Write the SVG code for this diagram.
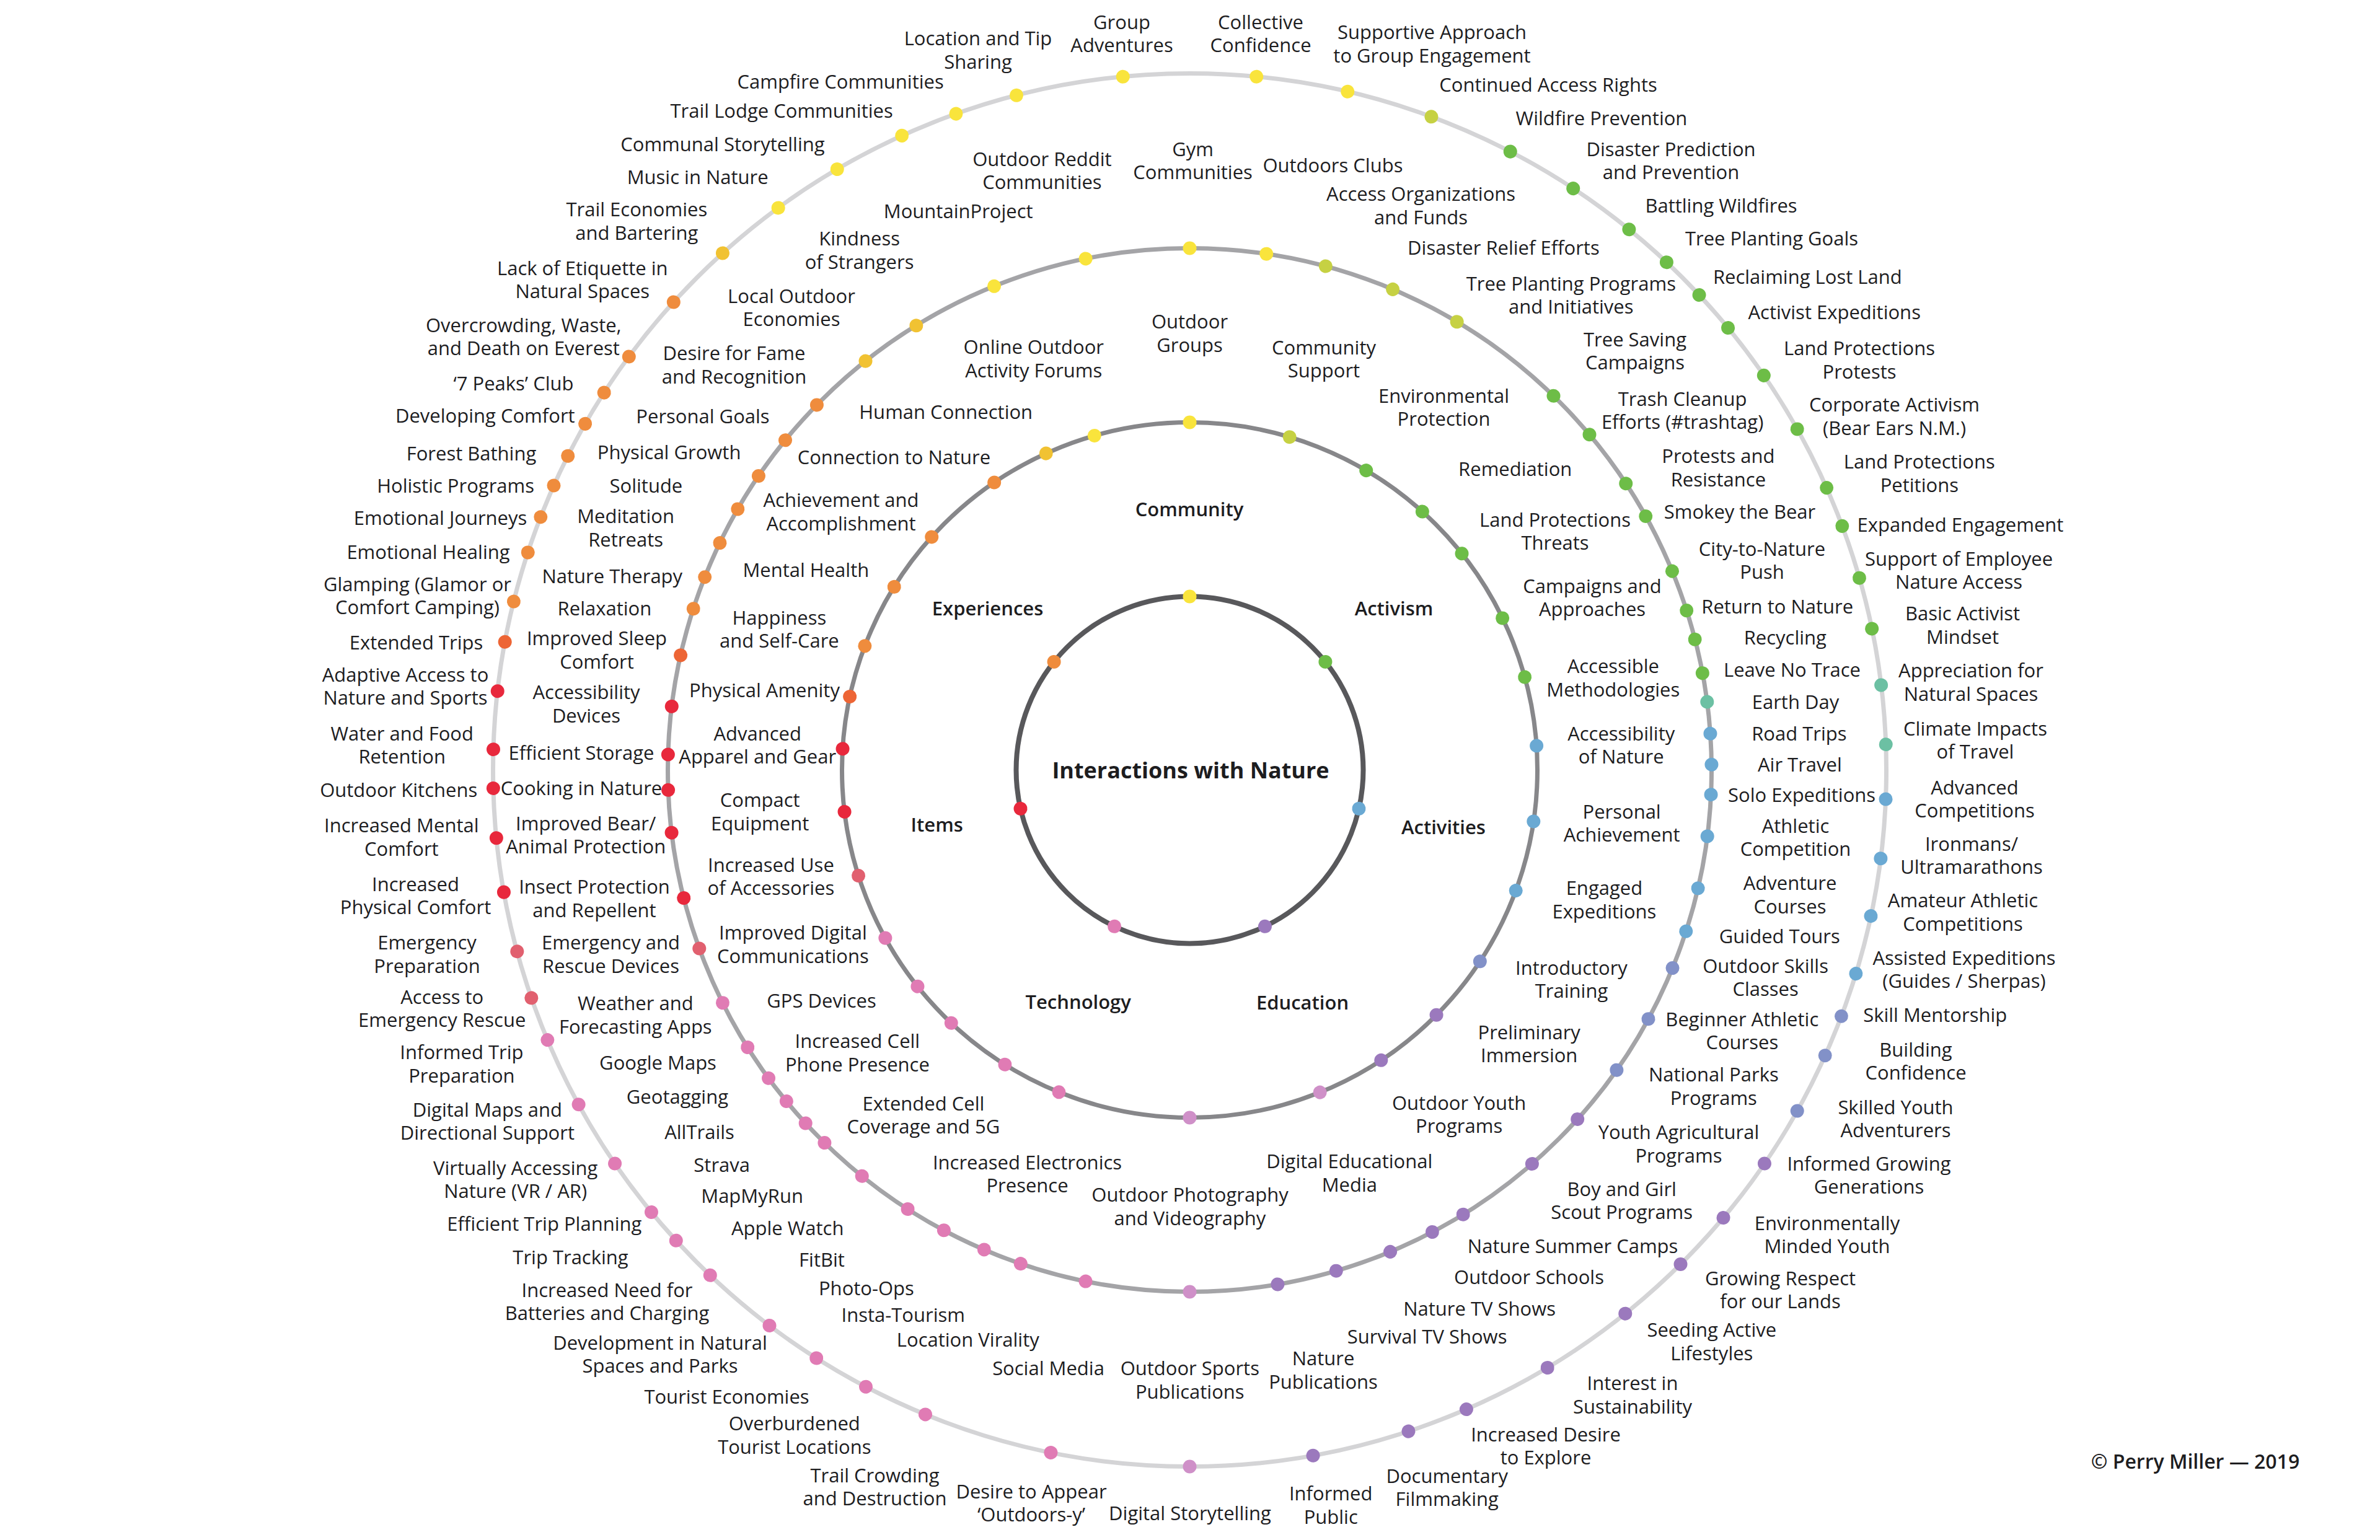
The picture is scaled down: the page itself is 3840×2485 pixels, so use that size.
<svg xmlns="http://www.w3.org/2000/svg" xmlns:xlink="http://www.w3.org/1999/xlink" width="3840" height="2485" viewBox="0 0 3840 2485">
<style>
text{font-family:"Open Sans","Liberation Sans",sans-serif;font-size:31px;font-weight:500;fill:#1d1d1f;text-anchor:middle}
.cat{font-weight:600}
.title{font-weight:700;font-size:36px}
.copy{font-weight:600;font-size:32px}
.ring{fill:none}
.r1{stroke:#58585b;stroke-width:8}
.r2{stroke:#87878a;stroke-width:7}
.r3{stroke:#a4a4a7;stroke-width:7}
.r4{stroke:#d4d4d6;stroke-width:7}
.cy{fill:#f9e43c}.cyo{fill:#f1c232}.co{fill:#ef8c3d}.cor{fill:#ed6535}.cr{fill:#e8283c}.cs{fill:#e1606f}
.cp{fill:#e07bb4}.cpp{fill:#cf90c8}.cv{fill:#9b79bd}.cb2{fill:#8291c8}.cb{fill:#6aa9d3}.ct{fill:#6cc0a3}
.cg{fill:#6dbd47}.cyg{fill:#c6d143}
</style>
<defs>
<circle id="d1" cx="2199.5" cy="1242.5" r="11"/>
<circle id="d2" cx="2480.5" cy="1242.5" r="11"/>
<circle id="d3" cx="2761.5" cy="1242.5" r="11"/>
<circle id="d4" cx="3043.5" cy="1242.5" r="11"/>
</defs>
<rect width="3840" height="2485" fill="#ffffff"/>
<g id="connectors">
<circle class="ring r4" cx="1919.5" cy="1242.5" r="1124"/>
<circle class="ring r3" cx="1919.5" cy="1242.5" r="842"/>
<circle class="ring r2" cx="1919.5" cy="1242.5" r="561"/>
<circle class="ring r1" cx="1919.5" cy="1242.5" r="280"/>
</g>
<g id="center"><text class="title" x="1921" y="1256">Interactions with Nature</text></g>

<g id="ring1">
<g id="r1-community"><use href="#d1" class="cy" transform="rotate(-90 1919.5 1242.5)"/><text class="cat" x="1919" y="833">Community</text></g>
<g id="r1-activism"><use href="#d1" class="cg" transform="rotate(-38.57 1919.5 1242.5)"/><text class="cat" x="2249" y="992.5">Activism</text></g>
<g id="r1-activities"><use href="#d1" class="cb" transform="rotate(12.86 1919.5 1242.5)"/><text class="cat" x="2329" y="1346">Activities</text></g>
<g id="r1-education"><use href="#d1" class="cv" transform="rotate(64.29 1919.5 1242.5)"/><text class="cat" x="2101.5" y="1628.8">Education</text></g>
<g id="r1-technology"><use href="#d1" class="cp" transform="rotate(115.71 1919.5 1242.5)"/><text class="cat" x="1739.7" y="1627.7">Technology</text></g>
<g id="r1-items"><use href="#d1" class="cr" transform="rotate(167.14 1919.5 1242.5)"/><text class="cat" x="1511.7" y="1342.2">Items</text></g>
<g id="r1-experiences"><use href="#d1" class="co" transform="rotate(-141.43 1919.5 1242.5)"/><text class="cat" x="1593.5" y="992.5">Experiences</text></g>
</g>

<g id="ring2">
<g id="a01"><use href="#d2" class="cy" transform="rotate(-90 1919.5 1242.5)"/><text x="1919.5" y="530.3">Outdoor<tspan x="1919.5" dy="37.5">Groups</tspan></text></g>
<g id="a02"><use href="#d2" class="cyg" transform="rotate(-73.3 1919.5 1242.5)"/><text x="2136" y="571.5">Community<tspan x="2136" dy="37.5">Support</tspan></text></g>
<g id="a03"><use href="#d2" class="cg" transform="rotate(-59.5 1919.5 1242.5)"/><text x="2329.5" y="649.7">Environmental<tspan x="2329.5" dy="37.5">Protection</tspan></text></g>
<g id="a04"><use href="#d2" class="cg" transform="rotate(-48 1919.5 1242.5)"/><text x="2444.7" y="767.5">Remediation</text></g>
<g id="a05"><use href="#d2" class="cg" transform="rotate(-38.5 1919.5 1242.5)"/><text x="2509" y="849.5">Land Protections<tspan x="2509" dy="37.5">Threats</tspan></text></g>
<g id="a06"><use href="#d2" class="cg" transform="rotate(-25.9 1919.5 1242.5)"/><text x="2569" y="956.6">Campaigns and<tspan x="2569" dy="37.5">Approaches</tspan></text></g>
<g id="a07"><use href="#d2" class="cg" transform="rotate(-15.5 1919.5 1242.5)"/><text x="2602.8" y="1086.2">Accessible<tspan x="2602.8" dy="37.5">Methodologies</tspan></text></g>
<g id="a08"><use href="#d2" class="cb" transform="rotate(-4 1919.5 1242.5)"/><text x="2615.7" y="1194.9">Accessibility<tspan x="2615.7" dy="37.5">of Nature</tspan></text></g>
<g id="a09"><use href="#d2" class="cb" transform="rotate(8.5 1919.5 1242.5)"/><text x="2616.6" y="1320.8">Personal<tspan x="2616.6" dy="37.5">Achievement</tspan></text></g>
<g id="a10"><use href="#d2" class="cb" transform="rotate(20.3 1919.5 1242.5)"/><text x="2588.4" y="1444">Engaged<tspan x="2588.4" dy="37.5">Expeditions</tspan></text></g>
<g id="a11"><use href="#d2" class="cb2" transform="rotate(33.4 1919.5 1242.5)"/><text x="2535.5" y="1572.5">Introductory<tspan x="2535.5" dy="37.5">Training</tspan></text></g>
<g id="a12"><use href="#d2" class="cv" transform="rotate(44.8 1919.5 1242.5)"/><text x="2467.2" y="1676.6">Preliminary<tspan x="2467.2" dy="37.5">Immersion</tspan></text></g>
<g id="a13"><use href="#d2" class="cv" transform="rotate(56.6 1919.5 1242.5)"/><text x="2354.1" y="1790.9">Outdoor Youth<tspan x="2354.1" dy="37.5">Programs</tspan></text></g>
<g id="a14"><use href="#d2" class="cpp" transform="rotate(68 1919.5 1242.5)"/><text x="2177.3" y="1885.2">Digital Educational<tspan x="2177.3" dy="37.5">Media</tspan></text></g>
<g id="a15"><use href="#d2" class="cpp" transform="rotate(90 1919.5 1242.5)"/><text x="1920" y="1939">Outdoor Photography<tspan x="1920" dy="37.5">and Videography</tspan></text></g>
<g id="a16"><use href="#d2" class="cp" transform="rotate(112.1 1919.5 1242.5)"/><text x="1657.5" y="1886.8">Increased Electronics<tspan x="1657.5" dy="37.5">Presence</tspan></text></g>
<g id="a17"><use href="#d2" class="cp" transform="rotate(122.1 1919.5 1242.5)"/><text x="1489.9" y="1791.9">Extended Cell<tspan x="1489.9" dy="37.5">Coverage and 5G</tspan></text></g>
<g id="a18"><use href="#d2" class="cp" transform="rotate(133.3 1919.5 1242.5)"/><text x="1383.4" y="1691.2">Increased Cell<tspan x="1383.4" dy="37.5">Phone Presence</tspan></text></g>
<g id="a19"><use href="#d2" class="cp" transform="rotate(141.5 1919.5 1242.5)"/><text x="1325.5" y="1626.1">GPS Devices</text></g>
<g id="a20"><use href="#d2" class="cp" transform="rotate(151.1 1919.5 1242.5)"/><text x="1279.4" y="1516.3">Improved Digital<tspan x="1279.4" dy="37.5">Communications</tspan></text></g>
<g id="a21"><use href="#d2" class="cs" transform="rotate(162.3 1919.5 1242.5)"/><text x="1243.9" y="1406.5">Increased Use<tspan x="1243.9" dy="37.5">of Accessories</tspan></text></g>
<g id="a22"><use href="#d2" class="cr" transform="rotate(173.1 1919.5 1242.5)"/><text x="1226.2" y="1302">Compact<tspan x="1226.2" dy="37.5">Equipment</tspan></text></g>
<g id="a23"><use href="#d2" class="cr" transform="rotate(-176.5 1919.5 1242.5)"/><text x="1222.2" y="1194.9">Advanced<tspan x="1222.2" dy="37.5">Apparel and Gear</tspan></text></g>
<g id="a24"><use href="#d2" class="cor" transform="rotate(-167.8 1919.5 1242.5)"/><text x="1233.5" y="1125.3">Physical Amenity</text></g>
<g id="a25"><use href="#d2" class="co" transform="rotate(-159.1 1919.5 1242.5)"/><text x="1257.4" y="1007.5">Happiness<tspan x="1257.4" dy="37.5">and Self-Care</tspan></text></g>
<g id="a26"><use href="#d2" class="co" transform="rotate(-148.2 1919.5 1242.5)"/><text x="1300.3" y="930.9">Mental Health</text></g>
<g id="a27"><use href="#d2" class="co" transform="rotate(-137.9 1919.5 1242.5)"/><text x="1357" y="818.4">Achievement and<tspan x="1357" dy="37.5">Accomplishment</tspan></text></g>
<g id="a28"><use href="#d2" class="co" transform="rotate(-124.2 1919.5 1242.5)"/><text x="1442.4" y="748.8">Connection to Nature</text></g>
<g id="a29"><use href="#d2" class="cyo" transform="rotate(-114.4 1919.5 1242.5)"/><text x="1526.2" y="676">Human Connection</text></g>
<g id="a30"><use href="#d2" class="cy" transform="rotate(-105.9 1919.5 1242.5)"/><text x="1667.8" y="571">Online Outdoor<tspan x="1667.8" dy="37.5">Activity Forums</tspan></text></g>
</g>

<g id="ring3">
<g id="b01"><use href="#d3" class="cy" transform="rotate(-90 1919.5 1242.5)"/><text x="1924.6" y="251.7">Gym<tspan x="1924.6" dy="37.5">Communities</tspan></text></g>
<g id="b02"><use href="#d3" class="cy" transform="rotate(-81.55 1919.5 1242.5)"/><text x="2150.4" y="277.5">Outdoors Clubs</text></g>
<g id="b03"><use href="#d3" class="cyg" transform="rotate(-74.9 1919.5 1242.5)"/><text x="2292.6" y="324">Access Organizations<tspan x="2292.6" dy="37.5">and Funds</tspan></text></g>
<g id="b04"><use href="#d3" class="cyg" transform="rotate(-67.1 1919.5 1242.5)"/><text x="2425.9" y="411.4">Disaster Relief Efforts</text></g>
<g id="b05"><use href="#d3" class="cyg" transform="rotate(-59.2 1919.5 1242.5)"/><text x="2534.8" y="468.7">Tree Planting Programs<tspan x="2534.8" dy="37.5">and Initiatives</tspan></text></g>
<g id="b06"><use href="#d3" class="cg" transform="rotate(-45.8 1919.5 1242.5)"/><text x="2638" y="558.7">Tree Saving<tspan x="2638" dy="37.5">Campaigns</tspan></text></g>
<g id="b07"><use href="#d3" class="cg" transform="rotate(-40 1919.5 1242.5)"/><text x="2714.6" y="654.5">Trash Cleanup<tspan x="2714.6" dy="37.5">Efforts (#trashtag)</tspan></text></g>
<g id="b08"><use href="#d3" class="cg" transform="rotate(-33.3 1919.5 1242.5)"/><text x="2772.4" y="747.2">Protests and<tspan x="2772.4" dy="37.5">Resistance</tspan></text></g>
<g id="b09"><use href="#d3" class="cg" transform="rotate(-29.1 1919.5 1242.5)"/><text x="2807" y="837">Smokey the Bear</text></g>
<g id="b10"><use href="#d3" class="cg" transform="rotate(-22.4 1919.5 1242.5)"/><text x="2843" y="896.6">City-to-Nature<tspan x="2843" dy="37.5">Push</tspan></text></g>
<g id="b11"><use href="#d3" class="cg" transform="rotate(-17.8 1919.5 1242.5)"/><text x="2867.7" y="989.8">Return to Nature</text></g>
<g id="b12"><use href="#d3" class="cg" transform="rotate(-14.5 1919.5 1242.5)"/><text x="2880.3" y="1039.6">Recycling</text></g>
<g id="b13"><use href="#d3" class="cg" transform="rotate(-10.7 1919.5 1242.5)"/><text x="2891.5" y="1092.1">Leave No Trace</text></g>
<g id="b14"><use href="#d3" class="ct" transform="rotate(-7.5 1919.5 1242.5)"/><text x="2897" y="1144">Earth Day</text></g>
<g id="b15"><use href="#d3" class="cb" transform="rotate(-4 1919.5 1242.5)"/><text x="2902.8" y="1194.9">Road Trips</text></g>
<g id="b16"><use href="#d3" class="cb" transform="rotate(-0.6 1919.5 1242.5)"/><text x="2903.9" y="1244.7">Air Travel</text></g>
<g id="b17"><use href="#d3" class="cb" transform="rotate(2.7 1919.5 1242.5)"/><text x="2907.1" y="1294">Solo Expeditions</text></g>
<g id="b18"><use href="#d3" class="cb" transform="rotate(7.3 1919.5 1242.5)"/><text x="2897" y="1343.8">Athletic<tspan x="2897" dy="37.5">Competition</tspan></text></g>
<g id="b19"><use href="#d3" class="cb" transform="rotate(13.1 1919.5 1242.5)"/><text x="2888" y="1436">Adventure<tspan x="2888" dy="37.5">Courses</tspan></text></g>
<g id="b20"><use href="#d3" class="cb" transform="rotate(18 1919.5 1242.5)"/><text x="2871.3" y="1521.7">Guided Tours</text></g>
<g id="b21"><use href="#d3" class="cb2" transform="rotate(22.3 1919.5 1242.5)"/><text x="2848.6" y="1569.9">Outdoor Skills<tspan x="2848.6" dy="37.5">Classes</tspan></text></g>
<g id="b22"><use href="#d3" class="cb2" transform="rotate(28.5 1919.5 1242.5)"/><text x="2810.8" y="1655.6">Beginner Athletic<tspan x="2810.8" dy="37.5">Courses</tspan></text></g>
<g id="b23"><use href="#d3" class="cb2" transform="rotate(35.1 1919.5 1242.5)"/><text x="2764.8" y="1745.1">National Parks<tspan x="2764.8" dy="37.5">Programs</tspan></text></g>
<g id="b24"><use href="#d3" class="cv" transform="rotate(42 1919.5 1242.5)"/><text x="2708.5" y="1838.3">Youth Agricultural<tspan x="2708.5" dy="37.5">Programs</tspan></text></g>
<g id="b25"><use href="#d3" class="cv" transform="rotate(49 1919.5 1242.5)"/><text x="2616.7" y="1929.9">Boy and Girl<tspan x="2616.7" dy="37.5">Scout Programs</tspan></text></g>
<g id="b26"><use href="#d3" class="cv" transform="rotate(58.4 1919.5 1242.5)"/><text x="2537.6" y="2021.5">Nature Summer Camps</text></g>
<g id="b27"><use href="#d3" class="cv" transform="rotate(62.3 1919.5 1242.5)"/><text x="2467" y="2072.1">Outdoor Schools</text></g>
<g id="b28"><use href="#d3" class="cv" transform="rotate(67.4 1919.5 1242.5)"/><text x="2387.1" y="2123.3">Nature TV Shows</text></g>
<g id="b29"><use href="#d3" class="cv" transform="rotate(73.7 1919.5 1242.5)"/><text x="2302.6" y="2168">Survival TV Shows</text></g>
<g id="b30"><use href="#d3" class="cv" transform="rotate(80.3 1919.5 1242.5)"/><text x="2135" y="2203">Nature<tspan x="2135" dy="37.5">Publications</tspan></text></g>
<g id="b31"><use href="#d3" class="cpp" transform="rotate(90 1919.5 1242.5)"/><text x="1919.8" y="2219.2">Outdoor Sports<tspan x="1919.8" dy="37.5">Publications</tspan></text></g>
<g id="b32"><use href="#d3" class="cp" transform="rotate(101.5 1919.5 1242.5)"/><text x="1691.5" y="2219.2">Social Media</text></g>
<g id="b33"><use href="#d3" class="cp" transform="rotate(108.9 1919.5 1242.5)"/><text x="1561.8" y="2173.4">Location Virality</text></g>
<g id="b34"><use href="#d3" class="cp" transform="rotate(113.2 1919.5 1242.5)"/><text x="1457.3" y="2133">Insta-Tourism</text></g>
<g id="b35"><use href="#d3" class="cp" transform="rotate(118.1 1919.5 1242.5)"/><text x="1397.9" y="2089.9">Photo-Ops</text></g>
<g id="b36"><use href="#d3" class="cp" transform="rotate(122.7 1919.5 1242.5)"/><text x="1326" y="2044.1">FitBit</text></g>
<g id="b37"><use href="#d3" class="cp" transform="rotate(128.9 1919.5 1242.5)"/><text x="1270.7" y="1992.9">Apple Watch</text></g>
<g id="b38"><use href="#d3" class="cp" transform="rotate(134.4 1919.5 1242.5)"/><text x="1213.6" y="1940.6">MapMyRun</text></g>
<g id="b39"><use href="#d3" class="cp" transform="rotate(137.4 1919.5 1242.5)"/><text x="1164.7" y="1890.5">Strava</text></g>
<g id="b40"><use href="#d3" class="cp" transform="rotate(140.6 1919.5 1242.5)"/><text x="1128.5" y="1838.3">AllTrails</text></g>
<g id="b41"><use href="#d3" class="cp" transform="rotate(143.8 1919.5 1242.5)"/><text x="1092.9" y="1781.2">Geotagging</text></g>
<g id="b42"><use href="#d3" class="cp" transform="rotate(147.9 1919.5 1242.5)"/><text x="1061.5" y="1726.2">Google Maps</text></g>
<g id="b43"><use href="#d3" class="cp" transform="rotate(153.5 1919.5 1242.5)"/><text x="1025.3" y="1630.4">Weather and<tspan x="1025.3" dy="37.5">Forecasting Apps</tspan></text></g>
<g id="b44"><use href="#d3" class="cs" transform="rotate(160 1919.5 1242.5)"/><text x="985.5" y="1532.4">Emergency and<tspan x="985.5" dy="37.5">Rescue Devices</tspan></text></g>
<g id="b45"><use href="#d3" class="cr" transform="rotate(165.8 1919.5 1242.5)"/><text x="959" y="1442.4">Insect Protection<tspan x="959" dy="37.5">and Repellent</tspan></text></g>
<g id="b46"><use href="#d3" class="cr" transform="rotate(173.1 1919.5 1242.5)"/><text x="945.2" y="1339.5">Improved Bear/<tspan x="945.2" dy="37.5">Animal Protection</tspan></text></g>
<g id="b47"><use href="#d3" class="cr" transform="rotate(177.8 1919.5 1242.5)"/><text x="938" y="1283.3">Cooking in Nature</text></g>
<g id="b48"><use href="#d3" class="cr" transform="rotate(-178.3 1919.5 1242.5)"/><text x="938" y="1225.5">Efficient Storage</text></g>
<g id="b49"><use href="#d3" class="cr" transform="rotate(-173 1919.5 1242.5)"/><text x="946" y="1128">Accessibility<tspan x="946" dy="37.5">Devices</tspan></text></g>
<g id="b50"><use href="#d3" class="cor" transform="rotate(-167.3 1919.5 1242.5)"/><text x="963" y="1041.2">Improved Sleep<tspan x="963" dy="37.5">Comfort</tspan></text></g>
<g id="b51"><use href="#d3" class="co" transform="rotate(-162 1919.5 1242.5)"/><text x="975.4" y="992.5">Relaxation</text></g>
<g id="b52"><use href="#d3" class="co" transform="rotate(-158.3 1919.5 1242.5)"/><text x="987.8" y="940.5">Nature Therapy</text></g>
<g id="b53"><use href="#d3" class="co" transform="rotate(-154.2 1919.5 1242.5)"/><text x="1009.6" y="844.1">Meditation<tspan x="1009.6" dy="37.5">Retreats</tspan></text></g>
<g id="b54"><use href="#d3" class="co" transform="rotate(-150 1919.5 1242.5)"/><text x="1042.4" y="794.9">Solitude</text></g>
<g id="b55"><use href="#d3" class="co" transform="rotate(-145.7 1919.5 1242.5)"/><text x="1079.6" y="740.8">Physical Growth</text></g>
<g id="b56"><use href="#d3" class="co" transform="rotate(-140.8 1919.5 1242.5)"/><text x="1134" y="683">Personal Goals</text></g>
<g id="b57"><use href="#d3" class="co" transform="rotate(-135.6 1919.5 1242.5)"/><text x="1184.5" y="581.1">Desire for Fame<tspan x="1184.5" dy="37.5">and Recognition</tspan></text></g>
<g id="b58"><use href="#d3" class="cyo" transform="rotate(-128.4 1919.5 1242.5)"/><text x="1277" y="488.5">Local Outdoor<tspan x="1277" dy="37.5">Economies</tspan></text></g>
<g id="b59"><use href="#d3" class="cyo" transform="rotate(-121.6 1919.5 1242.5)"/><text x="1386.6" y="396.4">Kindness<tspan x="1386.6" dy="37.5">of Strangers</tspan></text></g>
<g id="b60"><use href="#d3" class="cy" transform="rotate(-112 1919.5 1242.5)"/><text x="1546.2" y="352.4">MountainProject</text></g>
<g id="b61"><use href="#d3" class="cy" transform="rotate(-101.5 1919.5 1242.5)"/><text x="1681.4" y="267.8">Outdoor Reddit<tspan x="1681.4" dy="37.5">Communities</tspan></text></g>
</g>

<g id="ring4">
<g id="c01"><use href="#d4" class="cy" transform="rotate(-95.5 1919.5 1242.5)"/><text x="1810" y="46.6">Group<tspan x="1810" dy="37.5">Adventures</tspan></text></g>
<g id="c02"><use href="#d4" class="cy" transform="rotate(-84.5 1919.5 1242.5)"/><text x="2034" y="46.6">Collective<tspan x="2034" dy="37.5">Confidence</tspan></text></g>
<g id="c03"><use href="#d4" class="cy" transform="rotate(-76.9 1919.5 1242.5)"/><text x="2310.5" y="63.2">Supportive Approach<tspan x="2310.5" dy="37.5">to Group Engagement</tspan></text></g>
<g id="c04"><use href="#d4" class="cyg" transform="rotate(-69.7 1919.5 1242.5)"/><text x="2498" y="148.4">Continued Access Rights</text></g>
<g id="c05"><use href="#d4" class="cg" transform="rotate(-62.6 1919.5 1242.5)"/><text x="2584" y="201.9">Wildfire Prevention</text></g>
<g id="c06"><use href="#d4" class="cg" transform="rotate(-56.6 1919.5 1242.5)"/><text x="2696" y="251.7">Disaster Prediction<tspan x="2696" dy="37.5">and Prevention</tspan></text></g>
<g id="c07"><use href="#d4" class="cg" transform="rotate(-50.9 1919.5 1242.5)"/><text x="2777" y="342.8">Battling Wildfires</text></g>
<g id="c08"><use href="#d4" class="cg" transform="rotate(-46.8 1919.5 1242.5)"/><text x="2858.5" y="396.4">Tree Planting Goals</text></g>
<g id="c09"><use href="#d4" class="cg" transform="rotate(-43 1919.5 1242.5)"/><text x="2916.3" y="458">Reclaiming Lost Land</text></g>
<g id="c10"><use href="#d4" class="cg" transform="rotate(-39.4 1919.5 1242.5)"/><text x="2959.7" y="515.3">Activist Expeditions</text></g>
<g id="c11"><use href="#d4" class="cg" transform="rotate(-34.5 1919.5 1242.5)"/><text x="3000" y="573.1">Land Protections<tspan x="3000" dy="37.5">Protests</tspan></text></g>
<g id="c12"><use href="#d4" class="cg" transform="rotate(-29.3 1919.5 1242.5)"/><text x="3056.6" y="664.2">Corporate Activism<tspan x="3056.6" dy="37.5">(Bear Ears N.M.)</tspan></text></g>
<g id="c13"><use href="#d4" class="cg" transform="rotate(-23.9 1919.5 1242.5)"/><text x="3096.8" y="756.3">Land Protections<tspan x="3096.8" dy="37.5">Petitions</tspan></text></g>
<g id="c14"><use href="#d4" class="cg" transform="rotate(-20.5 1919.5 1242.5)"/><text x="3163" y="857.5">Expanded Engagement</text></g>
<g id="c15"><use href="#d4" class="cg" transform="rotate(-16 1919.5 1242.5)"/><text x="3160.6" y="912.7">Support of Employee<tspan x="3160.6" dy="37.5">Nature Access</tspan></text></g>
<g id="c16"><use href="#d4" class="cg" transform="rotate(-11.7 1919.5 1242.5)"/><text x="3166.5" y="1001">Basic Activist<tspan x="3166.5" dy="37.5">Mindset</tspan></text></g>
<g id="c17"><use href="#d4" class="ct" transform="rotate(-7 1919.5 1242.5)"/><text x="3180" y="1093.2">Appreciation for<tspan x="3180" dy="37.5">Natural Spaces</tspan></text></g>
<g id="c18"><use href="#d4" class="ct" transform="rotate(-2.1 1919.5 1242.5)"/><text x="3187" y="1186.9">Climate Impacts<tspan x="3187" dy="37.5">of Travel</tspan></text></g>
<g id="c19"><use href="#d4" class="cb" transform="rotate(2.4 1919.5 1242.5)"/><text x="3186" y="1281.7">Advanced<tspan x="3186" dy="37.5">Competitions</tspan></text></g>
<g id="c20"><use href="#d4" class="cb" transform="rotate(7.3 1919.5 1242.5)"/><text x="3181" y="1372.8">Ironmans/<tspan x="3181" dy="37.5">Ultramarathons</tspan></text></g>
<g id="c21"><use href="#d4" class="cb" transform="rotate(12.1 1919.5 1242.5)"/><text x="3167" y="1464.4">Amateur Athletic<tspan x="3167" dy="37.5">Competitions</tspan></text></g>
<g id="c22"><use href="#d4" class="cb" transform="rotate(17 1919.5 1242.5)"/><text x="3169" y="1556.5">Assisted Expeditions<tspan x="3169" dy="37.5">(Guides / Sherpas)</tspan></text></g>
<g id="c23"><use href="#d4" class="cb2" transform="rotate(20.7 1919.5 1242.5)"/><text x="3122.2" y="1649">Skill Mentorship</text></g>
<g id="c24"><use href="#d4" class="cb2" transform="rotate(24.2 1919.5 1242.5)"/><text x="3091" y="1704.7">Building<tspan x="3091" dy="37.5">Confidence</tspan></text></g>
<g id="c25"><use href="#d4" class="cb2" transform="rotate(29.3 1919.5 1242.5)"/><text x="3058.5" y="1797.9">Skilled Youth<tspan x="3058.5" dy="37.5">Adventurers</tspan></text></g>
<g id="c26"><use href="#d4" class="cv" transform="rotate(34.4 1919.5 1242.5)"/><text x="3015.5" y="1888.9">Informed Growing<tspan x="3015.5" dy="37.5">Generations</tspan></text></g>
<g id="c27"><use href="#d4" class="cv" transform="rotate(40 1919.5 1242.5)"/><text x="2948" y="1984.8">Environmentally<tspan x="2948" dy="37.5">Minded Youth</tspan></text></g>
<g id="c28"><use href="#d4" class="cv" transform="rotate(45.2 1919.5 1242.5)"/><text x="2872.5" y="2073.7">Growing Respect<tspan x="2872.5" dy="37.5">for our Lands</tspan></text></g>
<g id="c29"><use href="#d4" class="cv" transform="rotate(51.3 1919.5 1242.5)"/><text x="2761.8" y="2157.2">Seeding Active<tspan x="2761.8" dy="37.5">Lifestyles</tspan></text></g>
<g id="c30"><use href="#d4" class="cv" transform="rotate(59.1 1919.5 1242.5)"/><text x="2634" y="2243.4">Interest in<tspan x="2634" dy="37.5">Sustainability</tspan></text></g>
<g id="c31"><use href="#d4" class="cv" transform="rotate(66.6 1919.5 1242.5)"/><text x="2494" y="2325.9">Increased Desire<tspan x="2494" dy="37.5">to Explore</tspan></text></g>
<g id="c32"><use href="#d4" class="cv" transform="rotate(71.7 1919.5 1242.5)"/><text x="2334.7" y="2392.7">Documentary<tspan x="2334.7" dy="37.5">Filmmaking</tspan></text></g>
<g id="c33"><use href="#d4" class="cv" transform="rotate(79.8 1919.5 1242.5)"/><text x="2147.2" y="2421.3">Informed<tspan x="2147.2" dy="37.5">Public</tspan></text></g>
<g id="c34"><use href="#d4" class="cpp" transform="rotate(90 1919.5 1242.5)"/><text x="1920" y="2452.5">Digital Storytelling</text></g>
<g id="c35"><use href="#d4" class="cp" transform="rotate(101.5 1919.5 1242.5)"/><text x="1664" y="2417.5">Desire to Appear<tspan x="1664" dy="37.5">&#8216;Outdoors-y&#8217;</tspan></text></g>
<g id="c36"><use href="#d4" class="cp" transform="rotate(112.3 1919.5 1242.5)"/><text x="1411.5" y="2391.6">Trail Crowding<tspan x="1411.5" dy="37.5">and Destruction</tspan></text></g>
<g id="c37"><use href="#d4" class="cp" transform="rotate(117.7 1919.5 1242.5)"/><text x="1281.8" y="2308.1">Overburdened<tspan x="1281.8" dy="37.5">Tourist Locations</tspan></text></g>
<g id="c38"><use href="#d4" class="cp" transform="rotate(122.4 1919.5 1242.5)"/><text x="1172.5" y="2265">Tourist Economies</text></g>
<g id="c39"><use href="#d4" class="cp" transform="rotate(127.1 1919.5 1242.5)"/><text x="1065" y="2177.7">Development in Natural<tspan x="1065" dy="37.5">Spaces and Parks</tspan></text></g>
<g id="c40"><use href="#d4" class="cp" transform="rotate(133.5 1919.5 1242.5)"/><text x="979.5" y="2092.6">Increased Need for<tspan x="979.5" dy="37.5">Batteries and Charging</tspan></text></g>
<g id="c41"><use href="#d4" class="cp" transform="rotate(137.5 1919.5 1242.5)"/><text x="920.5" y="2039.8">Trip Tracking</text></g>
<g id="c42"><use href="#d4" class="cp" transform="rotate(140.6 1919.5 1242.5)"/><text x="878.3" y="1985.9">Efficient Trip Planning</text></g>
<g id="c43"><use href="#d4" class="cp" transform="rotate(145.6 1919.5 1242.5)"/><text x="831.7" y="1895.9">Virtually Accessing<tspan x="831.7" dy="37.5">Nature (VR / AR)</tspan></text></g>
<g id="c44"><use href="#d4" class="cp" transform="rotate(151.3 1919.5 1242.5)"/><text x="786.4" y="1801.6">Digital Maps and<tspan x="786.4" dy="37.5">Directional Support</tspan></text></g>
<g id="c45"><use href="#d4" class="cp" transform="rotate(157.2 1919.5 1242.5)"/><text x="744.9" y="1709">Informed Trip<tspan x="744.9" dy="37.5">Preparation</tspan></text></g>
<g id="c46"><use href="#d4" class="cs" transform="rotate(160.9 1919.5 1242.5)"/><text x="713.2" y="1619.7">Access to<tspan x="713.2" dy="37.5">Emergency Rescue</tspan></text></g>
<g id="c47"><use href="#d4" class="cs" transform="rotate(164.9 1919.5 1242.5)"/><text x="689" y="1532.4">Emergency<tspan x="689" dy="37.5">Preparation</tspan></text></g>
<g id="c48"><use href="#d4" class="cr" transform="rotate(169.9 1919.5 1242.5)"/><text x="670.5" y="1437.6">Increased<tspan x="670.5" dy="37.5">Physical Comfort</tspan></text></g>
<g id="c49"><use href="#d4" class="cr" transform="rotate(174.4 1919.5 1242.5)"/><text x="647.8" y="1343.3">Increased Mental<tspan x="647.8" dy="37.5">Comfort</tspan></text></g>
<g id="c50"><use href="#d4" class="cr" transform="rotate(178.5 1919.5 1242.5)"/><text x="643.2" y="1286">Outdoor Kitchens</text></g>
<g id="c51"><use href="#d4" class="cr" transform="rotate(-178.3 1919.5 1242.5)"/><text x="648.7" y="1194.9">Water and Food<tspan x="648.7" dy="37.5">Retention</tspan></text></g>
<g id="c52"><use href="#d4" class="cr" transform="rotate(-173.5 1919.5 1242.5)"/><text x="654" y="1099.6">Adaptive Access to<tspan x="654" dy="37.5">Nature and Sports</tspan></text></g>
<g id="c53"><use href="#d4" class="cor" transform="rotate(-169.4 1919.5 1242.5)"/><text x="671.5" y="1047.6">Extended Trips</text></g>
<g id="c54"><use href="#d4" class="co" transform="rotate(-166 1919.5 1242.5)"/><text x="673.5" y="953.9">Glamping (Glamor or<tspan x="673.5" dy="37.5">Comfort Camping)</tspan></text></g>
<g id="c55"><use href="#d4" class="co" transform="rotate(-161.8 1919.5 1242.5)"/><text x="691" y="902">Emotional Healing</text></g>
<g id="c56"><use href="#d4" class="co" transform="rotate(-158.7 1919.5 1242.5)"/><text x="710.5" y="846.8">Emotional Journeys</text></g>
<g id="c57"><use href="#d4" class="co" transform="rotate(-155.9 1919.5 1242.5)"/><text x="735.1" y="794.9">Holistic Programs</text></g>
<g id="c58"><use href="#d4" class="co" transform="rotate(-153.2 1919.5 1242.5)"/><text x="760.5" y="743.4">Forest Bathing</text></g>
<g id="c59"><use href="#d4" class="co" transform="rotate(-150.2 1919.5 1242.5)"/><text x="782.8" y="681.8">Developing Comfort</text></g>
<g id="c60"><use href="#d4" class="co" transform="rotate(-147.2 1919.5 1242.5)"/><text x="828.5" y="629.9">&#8216;7 Peaks&#8217; Club</text></g>
<g id="c61"><use href="#d4" class="co" transform="rotate(-143.6 1919.5 1242.5)"/><text x="844.8" y="535.6">Overcrowding, Waste,<tspan x="844.8" dy="37.5">and Death on Everest</tspan></text></g>
<g id="c62"><use href="#d4" class="co" transform="rotate(-137.8 1919.5 1242.5)"/><text x="939.8" y="443.5">Lack of Etiquette in<tspan x="939.8" dy="37.5">Natural Spaces</tspan></text></g>
<g id="c63"><use href="#d4" class="cyo" transform="rotate(-132.1 1919.5 1242.5)"/><text x="1027.3" y="349.2">Trail Economies<tspan x="1027.3" dy="37.5">and Bartering</tspan></text></g>
<g id="c64"><use href="#d4" class="cy" transform="rotate(-126.2 1919.5 1242.5)"/><text x="1125.7" y="297.3">Music in Nature</text></g>
<g id="c65"><use href="#d4" class="cy" transform="rotate(-120.4 1919.5 1242.5)"/><text x="1165.9" y="243.7">Communal Storytelling</text></g>
<g id="c66"><use href="#d4" class="cy" transform="rotate(-114.4 1919.5 1242.5)"/><text x="1261.1" y="190.1">Trail Lodge Communities</text></g>
<g id="c67"><use href="#d4" class="cy" transform="rotate(-109.6 1919.5 1242.5)"/><text x="1356.1" y="143">Campfire Communities</text></g>
<g id="c68"><use href="#d4" class="cy" transform="rotate(-104.4 1919.5 1242.5)"/><text x="1578" y="73.4">Location and Tip<tspan x="1578" dy="37.5">Sharing</tspan></text></g>
</g>

<g id="credit"><text class="copy" x="3542" y="2370">© Perry Miller — 2019</text></g>
</svg>
